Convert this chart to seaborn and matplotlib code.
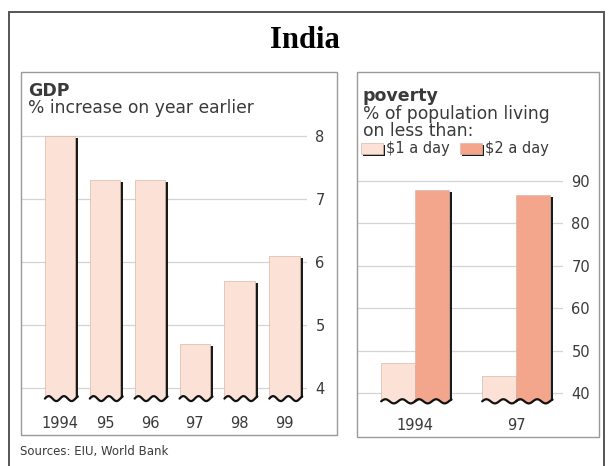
import matplotlib
matplotlib.use("Agg")
import numpy as np
import pandas as pd
import matplotlib.pyplot as plt
import matplotlib.patheffects as pe
import matplotlib.transforms as mtransforms
from matplotlib.patches import Rectangle
import seaborn as sns

# data
gdp_years = ["1994", "95", "96", "97", "98", "99"]
gdp_growth = [8.0, 7.3, 7.3, 4.7, 5.7, 6.1]

pov_years = ["1994", "97"]
pov_lines = ["$1 a day", "$2 a day"]
one_dollar = [47.0, 44.0]
two_dollar = [87.7, 86.5]

gdp_ticks = [4, 5, 6, 7, 8]
pov_ticks = [40, 50, 60, 70, 80, 90]

light = "#fbe1d6"
salmon = "#f4a68c"
txt = "#3a3a3a"

sns.set_style("white")
plt.rcParams['font.family'] = ['DejaVu Sans']

W, H = 610, 466
fig = plt.figure(figsize=(6.1, 4.66), dpi=100)

def fx(px):
    return px / W

def fy(py):
    return 1 - py / H

def frame(x0, y0, x1, y1, color="#9a9a9a", lw=1.0):
    fig.patches.append(Rectangle((fx(x0), fy(y1)), fx(x1) - fx(x0), fy(y0) - fy(y1),
                                 transform=fig.transFigure, fill=False,
                                 edgecolor=color, lw=lw, zorder=0))

def squiggle(ax, patch):
    x0 = patch.get_x()
    w = patch.get_width()
    xs = np.linspace(x0, x0 + w * 1.08, 60)
    ys = 0.016 + 0.009 * np.sin(2 * np.pi * 2 * (xs - x0) / w)
    trans = mtransforms.blended_transform_factory(ax.transData, ax.transAxes)
    ax.fill_between(xs, 0, ys - 0.004, color="white", transform=trans, zorder=4, clip_on=False)
    ax.plot(xs, ys, color="#111111", lw=1.6, transform=trans, clip_on=False, zorder=5)

def style_axis(ax, ticks):
    sns.despine(ax=ax, left=True, bottom=True)
    ax.yaxis.tick_right()
    ax.set_yticks(ticks)
    ax.set_xlabel("")
    ax.set_ylabel("")
    ax.grid(axis="y", color="#d4d4d4", lw=0.9)
    ax.set_axisbelow(True)
    ax.tick_params(axis="both", length=0, labelsize=10.5, colors=txt)
    ax.tick_params(axis="y", pad=6)
    ax.tick_params(axis="x", pad=9)
    ax.patch.set_alpha(0)

shadow = [pe.SimplePatchShadow(offset=(2.2, -1.5), shadow_rgbFace="#1a1a1a", alpha=1.0), pe.Normal()]

# outer frame and panel frames
frame(9, 12, 604, 470, color="#555555", lw=1.4)
frame(21, 72, 337, 435)
frame(357, 72, 599, 437)

fig.text(0.5, fy(40), "India", ha="center", va="center", fontsize=22, fontweight="bold",
         family="Liberation Serif", color="black")

# GDP panel
gdp_df = pd.DataFrame({"year": gdp_years, "growth": gdp_growth})
ax1 = fig.add_axes([fx(22), fy(403), fx(307) - fx(22), fy(128) - fy(403)])
sns.barplot(data=gdp_df, x="year", y="growth", ax=ax1, color=light, width=0.68,
            edgecolor="#d9b8ab", linewidth=0.5, saturation=1)
for p in ax1.patches:
    p.set_path_effects(shadow)
    squiggle(ax1, p)
ax1.set_ylim(3.77, 8.13)
ax1.set_xlim(-0.85, 5.5)
style_axis(ax1, gdp_ticks)

fig.text(fx(28), fy(91), "GDP", ha="left", va="center", fontsize=12.5, fontweight="bold", color=txt)
fig.text(fx(28), fy(108), "% increase on year earlier", ha="left", va="center", fontsize=12.3, color=txt)

# poverty panel
pov_df = pd.DataFrame({
    "year": pov_years * 2,
    "line": [pov_lines[0]] * 2 + [pov_lines[1]] * 2,
    "share": one_dollar + two_dollar,
})
ax2 = fig.add_axes([fx(357), fy(405), fx(563) - fx(357), fy(175) - fy(405)])
sns.barplot(data=pov_df, x="year", y="share", hue="line", ax=ax2, palette=[light, salmon],
            width=0.67, edgecolor="#d9b8ab", linewidth=0.5, saturation=1)
for p in ax2.patches:
    if p.get_height() > 0:
        p.set_path_effects(shadow)
        squiggle(ax2, p)
ax2.set_ylim(37.2, 91.3)
ax2.set_xlim(-0.574, 1.465)
style_axis(ax2, pov_ticks)

handles, labels = ax2.get_legend_handles_labels()
leg = ax2.legend(handles, [l.replace("$", r"\$") for l in labels], loc="center left",
                 bbox_to_anchor=(fx(361), fy(149)), bbox_transform=fig.transFigure, ncol=2,
                 frameon=False, handlelength=1.5, handleheight=0.8, handletextpad=0.2,
                 columnspacing=0.7, borderpad=0, borderaxespad=0, fontsize=10.5, labelcolor=txt)
for h in leg.get_patches():
    h.set_path_effects([pe.SimplePatchShadow(offset=(1.5, -1.2), shadow_rgbFace="#1a1a1a", alpha=1.0),
                        pe.Normal()])

fig.text(fx(363), fy(96), "poverty", ha="left", va="center", fontsize=12.5, fontweight="bold", color=txt)
fig.text(fx(363), fy(114), "% of population living", ha="left", va="center", fontsize=12.3, color=txt)
fig.text(fx(363), fy(131), "on less than:", ha="left", va="center", fontsize=12.3, color=txt)

fig.text(fx(20), fy(452), "Sources: EIU, World Bank", ha="left", va="center", fontsize=8.5, color=txt)

fig.savefig("out.png", dpi=100, facecolor="white")
